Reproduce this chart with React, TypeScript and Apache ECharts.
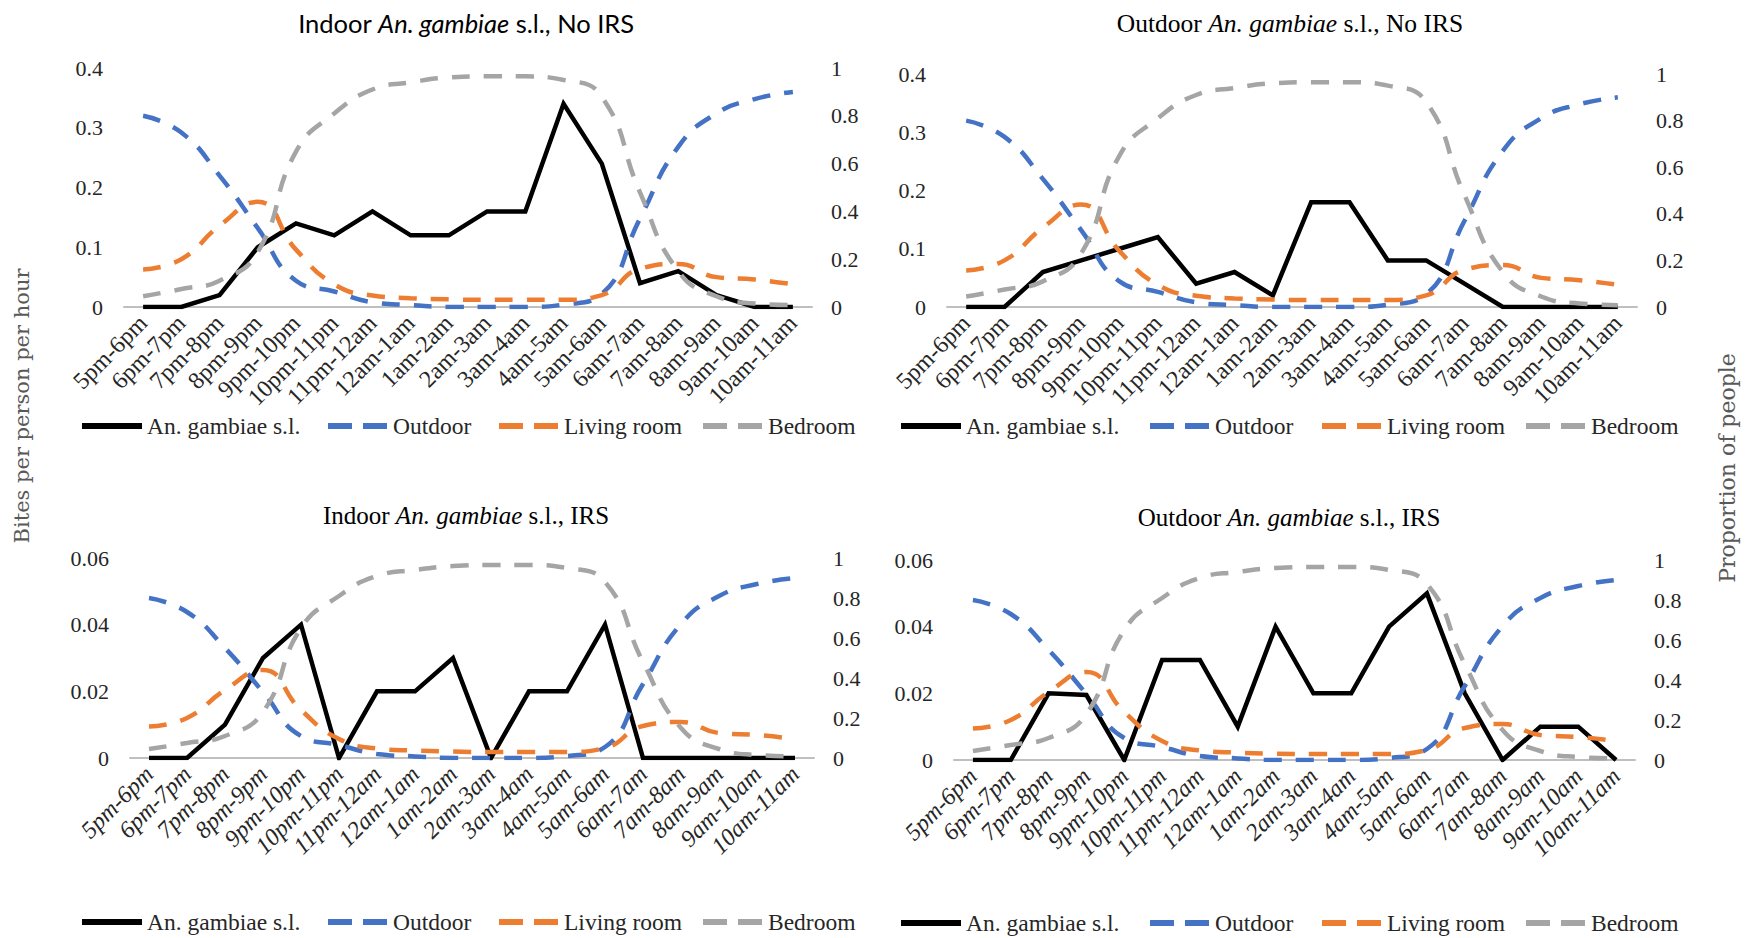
import React, { useEffect, useRef } from 'react';
import * as echarts from 'echarts';

// ---------- data ----------
const categories = [
  '5pm-6pm', '6pm-7pm', '7pm-8pm', '8pm-9pm', '9pm-10pm', '10pm-11pm',
  '11pm-12am', '12am-1am', '1am-2am', '2am-3am', '3am-4am', '4am-5am',
  '5am-6am', '6am-7am', '7am-8am', '8am-9am', '9am-10am', '10am-11am',
];

const bitesIndoorNoIRS = [0, 0, 0.02, 0.10, 0.14, 0.12, 0.16, 0.12, 0.12, 0.16, 0.16, 0.34, 0.24, 0.04, 0.06, 0.02, 0, 0];
const bitesOutdoorNoIRS = [0, 0, 0.06, 0.08, 0.10, 0.12, 0.04, 0.06, 0.02, 0.18, 0.18, 0.08, 0.08, 0.04, 0, 0, 0, 0];
const bitesIndoorIRS = [0, 0, 0.01, 0.03, 0.04, 0, 0.02, 0.02, 0.03, 0, 0.02, 0.02, 0.04, 0, 0, 0, 0, 0];
const bitesOutdoorIRS = [0, 0, 0.02, 0.0195, 0, 0.03, 0.03, 0.01, 0.04, 0.02, 0.02, 0.04, 0.05, 0.02, 0, 0.01, 0.01, 0];

const outdoorProportion = [0.80, 0.73, 0.55, 0.33, 0.11, 0.065, 0.02, 0.008, 0, 0, 0, 0.01, 0.055, 0.37, 0.67, 0.81, 0.87, 0.90];
const livingRoomProportion = [0.157, 0.20, 0.34, 0.44, 0.24, 0.095, 0.048, 0.037, 0.032, 0.03, 0.03, 0.03, 0.05, 0.16, 0.18, 0.125, 0.115, 0.095];
const bedroomProportion = [0.045, 0.075, 0.11, 0.23, 0.65, 0.81, 0.91, 0.94, 0.96, 0.965, 0.965, 0.95, 0.88, 0.48, 0.15, 0.045, 0.015, 0.008];

const seriesNames = ['An. gambiae s.l.', 'Outdoor', 'Living room', 'Bedroom'];
const seriesColors = ['#000000', '#4472C4', '#ED7D31', '#A5A5A5'];

const biteAxisMaxNoIRS = 0.4;
const biteAxisStepNoIRS = 0.1;
const biteAxisMaxIRS = 0.06;
const biteAxisStepIRS = 0.02;
const proportionAxisMax = 1;
const proportionAxisStep = 0.2;

const leftAxisName = 'Bites per person per hour';
const rightAxisName = 'Proportion of people';

// ---------- layout ----------
const SERIF = "'Liberation Serif', 'Times New Roman', serif";
const TEXT = '#262626';

const panels = [
  {
    place: 'Indoor ', tail: ' s.l., No IRS', bites: bitesIndoorNoIRS,
    max: biteAxisMaxNoIRS, step: biteAxisStepNoIRS,
    grid: { left: 124, top: 68, width: 688, height: 239 },
    titleX: 466, titleY: 23, titleFont: 'Lato', titleSize: 25.5,
    legendX: [79, 325, 496, 700], legendY: 427, italic: false,
  },
  {
    place: 'Outdoor ', tail: ' s.l., No IRS', bites: bitesOutdoorNoIRS,
    max: biteAxisMaxNoIRS, step: biteAxisStepNoIRS,
    grid: { left: 947, top: 74, width: 690, height: 233 },
    titleX: 1290, titleY: 23, titleFont: SERIF, titleSize: 25.5,
    legendX: [898, 1147, 1319, 1523], legendY: 427, italic: false,
  },
  {
    place: 'Indoor ', tail: ' s.l., IRS', bites: bitesIndoorIRS,
    max: biteAxisMaxIRS, step: biteAxisStepIRS,
    grid: { left: 130, top: 558, width: 684, height: 200 },
    titleX: 466, titleY: 515, titleFont: SERIF, titleSize: 25,
    legendX: [79, 325, 496, 700], legendY: 923, italic: true,
  },
  {
    place: 'Outdoor ', tail: ' s.l., IRS', bites: bitesOutdoorIRS,
    max: biteAxisMaxIRS, step: biteAxisStepIRS,
    grid: { left: 954, top: 560, width: 681, height: 200 },
    titleX: 1289, titleY: 517, titleFont: SERIF, titleSize: 25,
    legendX: [898, 1147, 1319, 1523], legendY: 924, italic: true,
  },
];

function buildOption() {
  const grid: any[] = [];
  const xAxis: any[] = [];
  const yAxis: any[] = [];
  const series: any[] = [];
  const legend: any[] = [];
  const graphic: any[] = [];
  const propData = [outdoorProportion, livingRoomProportion, bedroomProportion];

  panels.forEach((p, k) => {
    grid.push({ ...p.grid, containLabel: false, outerBoundsMode: 'none' });
    xAxis.push({
      type: 'category', gridIndex: k, data: categories, boundaryGap: true,
      axisTick: { show: false },
      axisLine: { lineStyle: { color: '#bfbfbf', width: 2 } },
      axisLabel: {
        rotate: 45, interval: 0, margin: 12, fontSize: 24, fontFamily: SERIF,
        color: TEXT, fontStyle: p.italic ? 'italic' : 'normal',
      },
    });
    yAxis.push({
      type: 'value', gridIndex: k, min: 0, max: p.max, interval: p.step,
      axisLine: { show: false }, axisTick: { show: false }, splitLine: { show: false },
      axisLabel: { fontSize: 22, fontFamily: SERIF, color: TEXT, margin: 21 },
    });
    yAxis.push({
      type: 'value', gridIndex: k, position: 'right', min: 0, max: proportionAxisMax,
      interval: proportionAxisStep,
      axisLine: { show: false }, axisTick: { show: false }, splitLine: { show: false },
      axisLabel: { fontSize: 22, fontFamily: SERIF, color: TEXT, margin: 19 },
    });
    series.push({
      name: seriesNames[0], type: 'line', xAxisIndex: k, yAxisIndex: 2 * k,
      data: p.bites, symbol: 'none', smooth: false,
      lineStyle: { color: seriesColors[0], width: 4.5, join: 'miter' },
      itemStyle: { color: seriesColors[0] },
    });
    propData.forEach((d, j) => {
      series.push({
        name: seriesNames[j + 1], type: 'line', xAxisIndex: k, yAxisIndex: 2 * k + 1,
        data: d, symbol: 'none', smooth: 0.5,
        lineStyle: { color: seriesColors[j + 1], width: 4.5, type: [18, 14] },
        itemStyle: { color: seriesColors[j + 1] },
      });
    });
    seriesNames.forEach((name, j) => {
      legend.push({
        left: p.legendX[j], top: p.legendY - 13, padding: 0,
        itemWidth: 60, itemHeight: 14, selectedMode: false,
        data: [{
          name,
          itemStyle: { opacity: 0 },
          lineStyle: j === 0 ? { width: 6 } : { width: 6, type: [24, 11] },
        }],
        textStyle: { fontSize: 23.5, fontFamily: SERIF, color: TEXT },
      });
    });
    graphic.push({
      type: 'text', x: p.titleX, y: p.titleY,
      style: {
        text: `{n|${p.place}}{i|An. gambiae}{n|${p.tail}}`,
        align: 'center', verticalAlign: 'middle',
        rich: {
          n: { fontFamily: p.titleFont, fontSize: p.titleSize, fill: '#000' },
          i: { fontFamily: p.titleFont, fontSize: p.titleSize, fontStyle: 'italic', fill: '#000' },
        },
      },
    });
  });

  graphic.push({
    type: 'text', x: 22, y: 406, rotation: Math.PI / 2,
    style: {
      text: leftAxisName, fontFamily: "'DejaVu Serif', serif", fontSize: 21,
      fill: '#595959', align: 'center', verticalAlign: 'middle',
    },
  });
  graphic.push({
    type: 'text', x: 1727, y: 468, rotation: Math.PI / 2,
    style: {
      text: rightAxisName, fontFamily: "'DejaVu Serif', serif", fontSize: 22,
      fill: '#595959', align: 'center', verticalAlign: 'middle',
    },
  });

  return {
    animation: false,
    backgroundColor: '#ffffff',
    grid, xAxis, yAxis, series, legend, graphic,
  };
}

export default function App() {
  const ref = useRef<HTMLDivElement>(null);
  useEffect(() => {
    if (!ref.current) return;
    const chart = echarts.init(ref.current, null, { renderer: 'svg' });
    chart.setOption(buildOption() as any);
    return () => chart.dispose();
  }, []);
  return (
    <div
      ref={ref}
      style={{ position: 'fixed', left: 0, top: 0, width: 1745, height: 938, background: '#fff' }}
    />
  );
}
